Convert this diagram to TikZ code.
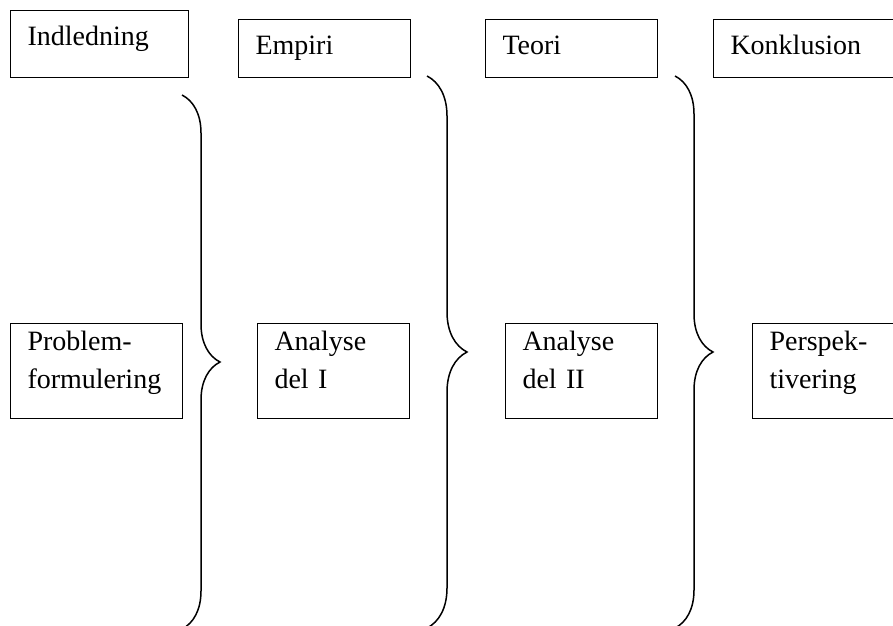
\documentclass[tikz,border=0pt]{standalone}
\usepackage{fontspec}
\setmainfont{Liberation Serif}
\usetikzlibrary{decorations.pathreplacing}
\tikzset{
    box/.style={draw, line width=1pt, anchor=north west, inner xsep=17pt, inner ysep=0pt,
        align=left, font=\fontsize{28}{38}\selectfont},
    hoved/.style={box, text height=35pt},
    afsnit/.style={box, text height=27pt, text depth=68pt},
    klamme/.style={decorate, decoration={brace, amplitude=#1}, line width=1.5pt},
}
\begin{document}
\begin{tikzpicture}[x=1pt, y=-1pt]
        \useasboundingbox (0,0) rectangle (893,625);
        \clip (0,0) rectangle (893,625);

        % overskrifter
        \node[hoved, text width=144pt, text depth=32pt] (indledning) at (10,10) {Indledning};
        \node[hoved, text width=138pt, text depth=23pt] (empiri) at (238,19) {Empiri};
        \node[hoved, text width=138pt, text depth=23pt] (teori) at (485,19) {Teori};
        \node[hoved, text width=166pt, text depth=23pt] (konklusion) at (713,19) {Konklusion};

        % afsnit
        \node[afsnit, text width=138pt] (problem) at (10,323) {Problem-\\formulering};
        \node[afsnit, text width=118pt] (analyse1) at (257,323) {Analyse\\del I};
        \node[afsnit, text width=118pt] (analyse2) at (505,323) {Analyse\\del II};
        \node[afsnit, text width=126pt] (persp) at (752,323) {Perspek-\\tivering};

        % klammer
        \coordinate (k1top) at (182,95);
        \coordinate (k1bund) at (182,629);
        \coordinate (k2top) at (427,76);
        \coordinate (k2bund) at (427,628);
        \coordinate (k3top) at (675,76);
        \coordinate (k3bund) at (675,628);
        \draw[klamme=38pt] (k1top) -- (k1bund);
        \draw[klamme=40pt] (k2top) -- (k2bund);
        \draw[klamme=38pt] (k3top) -- (k3bund);
    \end{tikzpicture}
\end{document}
